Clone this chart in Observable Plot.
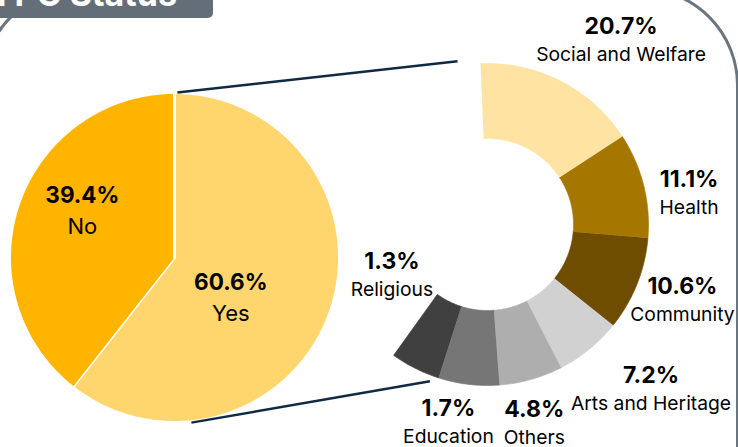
<!DOCTYPE html>
<html><head><meta charset="utf-8">
<script src="https://cdn.jsdelivr.net/npm/d3@7"></script>
<script src="https://cdn.jsdelivr.net/npm/@observablehq/plot@0.6"></script>
<style>
html,body{margin:0;padding:0;background:#fff;overflow:hidden;width:738px;height:447px;}
#wrap{position:relative;width:738px;height:447px;overflow:hidden;font-family:Inter, sans-serif;}
#frame{position:absolute;left:-19.5px;top:-13.5px;width:758.5px;height:700px;box-sizing:border-box;border:3px solid #6B7580;border-radius:98.5px;}
#tab{position:absolute;left:0;top:0;width:213px;height:18px;background:#646E78;border-bottom-right-radius:5px;overflow:hidden;}
#chart{position:absolute;left:0;top:0;}
</style></head><body>
<div id="wrap">
  <div id="frame"></div>
  <div id="chart"></div>
  <div id="tab"><svg width="213" height="18"><text x="177" y="6" text-anchor="end" fill="#fff" font-weight="700" font-size="34" font-family="Inter">Registration PC Status</text></svg></div>
</div>
<script>
// ---- data ----
const pieCategories = ["Yes", "No"];
const pieValues = [60.6, 39.4];
const donutCategories = ["Social and Welfare", "Health", "Community", "Arts and Heritage", "Others", "Education", "Religious"];
const donutPercents = [20.7, 11.1, 10.6, 7.2, 4.8, 1.7, 1.3];
// relative slice sizes as drawn in the picture (the ring expands the "Yes" slice)
const donutSliceWeights = [59.5, 38, 34, 24, 23, 22, 18];

// ---- layout ----
const W = 738, H = 447, deg = Math.PI / 180;
const pie = {cx: 174, cy: 257, r: 165, start: 0};
const ring = {cx: 487, cy: 224, r0: 86, r1: 161, start: -2.5};
const pieColors = ["#FFD56E", "#FFB400"];
const ringColors = ["#FFE3A3", "#A57700", "#6F4D00", "#D1D1D1", "#AEAEAE", "#767676", "#404040"];
// label placement: angle offset from slice middle, radius
const pieLabelPlace = [[15, 68], [8.6, 104]];
const ringLabelPlace = [[8.65, 228], [5.3, 204], [-0.7, 209], [-5.6, 232], [2.5, 204], [4.5, 201], [35.5, 108]];

const polar = (cx, cy, r, a) => [cx + r * Math.sin(a * deg), cy - r * Math.cos(a * deg)];
function arcPoly(key, cx, cy, r0, r1, a0, a1) {
  const pts = [];
  const n = Math.max(2, Math.ceil(Math.abs(a1 - a0)));
  for (let i = 0; i <= n; i++) { const [x, y] = polar(cx, cy, r1, a0 + (a1 - a0) * i / n); pts.push({key, x, y}); }
  if (r0 === 0) { pts.push({key, x: cx, y: cy}); }
  else for (let i = n; i >= 0; i--) { const [x, y] = polar(cx, cy, r0, a0 + (a1 - a0) * i / n); pts.push({key, x, y}); }
  return pts;
}

const pieTotal = d3.sum(pieValues);
let acc = 0;
const pieSlices = pieValues.map((v, i) => {
  const a0 = pie.start + acc / pieTotal * 360; acc += v;
  const a1 = pie.start + acc / pieTotal * 360;
  return {key: pieCategories[i], a0, a1, mid: (a0 + a1) / 2, v};
});
const piePts = pieSlices.flatMap(s => arcPoly(s.key, pie.cx, pie.cy, 0, pie.r, s.a0, s.a1));

const ringSweep = pieValues[0] / pieTotal * 360;
const wTotal = d3.sum(donutSliceWeights);
acc = 0;
const ringSlices = donutSliceWeights.map((w, i) => {
  const a0 = ring.start + acc / wTotal * ringSweep; acc += w;
  const a1 = ring.start + acc / wTotal * ringSweep;
  return {key: donutCategories[i], a0, a1, mid: (a0 + a1) / 2, pct: donutPercents[i]};
});
const ringPts = ringSlices.flatMap(s => arcPoly(s.key, ring.cx, ring.cy, ring.r0, ring.r1, s.a0, s.a1));

const pieLabels = pieSlices.map((s, i) => {
  const [x, y] = polar(pie.cx, pie.cy, pieLabelPlace[i][1], s.mid + pieLabelPlace[i][0]);
  return {x, y, pct: s.v.toFixed(1) + "%", name: s.key};
});
const ringLabels = ringSlices.map((s, i) => {
  const [x, y] = polar(ring.cx, ring.cy, ringLabelPlace[i][1], s.mid + ringLabelPlace[i][0]);
  return {x, y, pct: s.pct.toFixed(1) + "%", name: s.key};
});

const yesSlice = pieSlices[0];
const links = [
  {p: polar(pie.cx, pie.cy, pie.r, yesSlice.a0 + 1), q: polar(ring.cx, ring.cy, 166, ring.start - 7.9)},
  {p: polar(pie.cx, pie.cy, pie.r + 1, yesSlice.a1 - 44), q: polar(ring.cx, ring.cy, 167, ring.start + ringSweep - 15.5)}
].map(d => ({x1: d.p[0], y1: d.p[1], x2: d.q[0], y2: d.q[1]}));

const chart = Plot.plot({
  width: W, height: H, margin: 0,
  x: {domain: [0, W], range: [0, W], axis: null},
  y: {domain: [0, H], range: [0, H], axis: null},
  color: {domain: [...pieCategories, ...donutCategories], range: [...pieColors, ...ringColors]},
  style: {fontFamily: "Inter", background: "transparent", overflow: "visible"},
  marks: [
    Plot.line(piePts, {x: "x", y: "y", z: "key", fill: "key", stroke: "white", strokeWidth: 3, strokeLinejoin: "round", curve: "linear"}),
    Plot.line(ringPts, {x: "x", y: "y", z: "key", fill: "key", stroke: "key", strokeWidth: 0.6, curve: "linear"}),
    Plot.link(links, {x1: "x1", y1: "y1", x2: "x2", y2: "y2", stroke: "#102A44", strokeWidth: 2.5}),
    Plot.text(pieLabels, {x: "x", y: d => d.y - 6, text: "pct", lineAnchor: "bottom", fontSize: 22.5, fontWeight: 700, fill: "#000"}),
    Plot.text(pieLabels, {x: "x", y: d => d.y + 25, text: "name", lineAnchor: "bottom", fontSize: 22, fill: "#000"}),
    Plot.text(ringLabels, {x: "x", y: d => d.y - 6, text: "pct", lineAnchor: "bottom", fontSize: 23, fontWeight: 700, fill: "#000"}),
    Plot.text(ringLabels, {x: "x", y: d => d.y + 21, text: "name", lineAnchor: "bottom", fontSize: 19.3, fill: "#000"})
  ]
});
document.getElementById("chart").appendChild(chart);
</script>
</body></html>
